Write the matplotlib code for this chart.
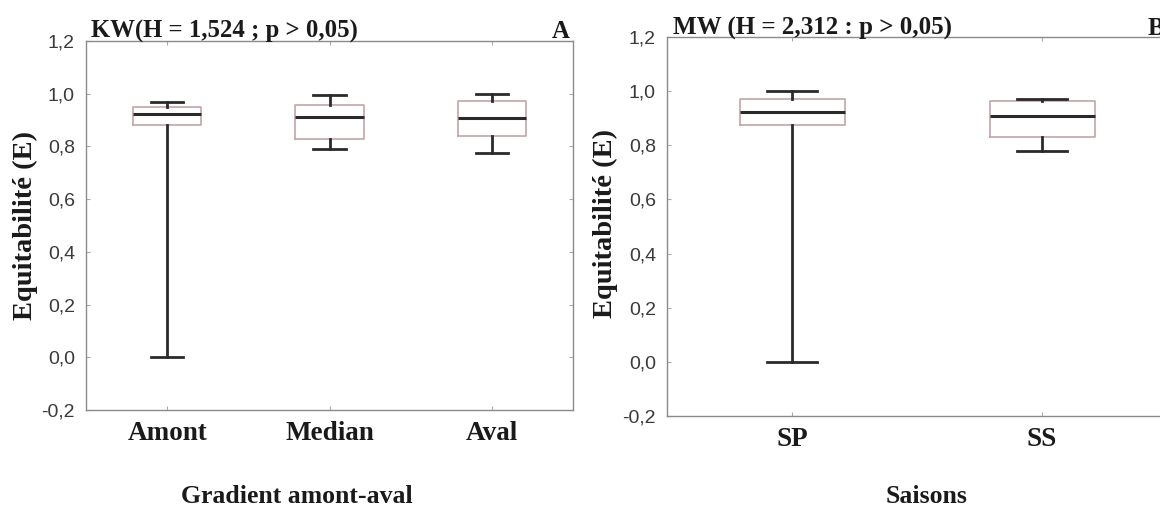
import matplotlib
matplotlib.use("Agg")
from matplotlib import pyplot as plt

# panel A : gradient amont-aval
groups_a = ["Amont", "Median", "Aval"]
low_a = [0.0, 0.789, 0.775]
q1_a = [0.880, 0.829, 0.839]
med_a = [0.923, 0.910, 0.907]
q3_a = [0.949, 0.959, 0.974]
high_a = [0.967, 0.994, 1.0]

# panel B : saisons
groups_b = ["SP", "SS"]
low_b = [0.0, 0.779]
q1_b = [0.876, 0.831]
med_b = [0.922, 0.910]
q3_b = [0.971, 0.964]
high_b = [1.0, 0.971]

yticks = [-0.2, 0.0, 0.2, 0.4, 0.6, 0.8, 1.0, 1.2]

serif = "Liberation Serif"
sans = "Liberation Sans"
box_col = "#c4a4a8"
dark = "#2a2a2a"


def make_stats(labels, low, q1, med, q3, high):
    stats = []
    for i in range(len(labels)):
        stats.append({"label": labels[i], "whislo": low[i], "q1": q1[i],
                      "med": med[i], "q3": q3[i], "whishi": high[i],
                      "fliers": []})
    return stats


def draw_panel(ax, stats):
    ax.bxp(stats, positions=range(len(stats)), widths=0.42, capwidths=0.2,
           showfliers=False,
           boxprops=dict(color=box_col, linewidth=1.2),
           medianprops=dict(color=dark, linewidth=2.2),
           whiskerprops=dict(color=dark, linewidth=2.0),
           capprops=dict(color=dark, linewidth=2.0))
    ax.set_xlim(-0.5, len(stats) - 0.5)
    ax.set_ylim(-0.2, 1.2)
    ax.set_yticks(yticks)
    ax.set_yticklabels([f"{v:.1f}".replace(".", ",").replace("-0,0", "0,0") for v in yticks],
                       family=sans, fontsize=14, color="#3a3a3a")
    ax.set_xticks(range(len(stats)))
    ax.set_xticklabels([s["label"] for s in stats], family=serif,
                       fontweight="bold", fontsize=19.5, color="#1a1a1a")
    ax.tick_params(axis="both", direction="in", length=3, color="#aaaaaa",
                   top=True, right=True)
    ax.tick_params(axis="x", pad=8)
    ax.tick_params(axis="y", pad=8)
    for sp in ax.spines.values():
        sp.set_color("#8a8a8a")
        sp.set_linewidth(1.0)


fig = plt.figure(figsize=(11.6, 5.08), dpi=100)

ax_a = fig.add_axes([86 / 1160, 1 - 410 / 508, 487 / 1160, 369 / 508])
draw_panel(ax_a, make_stats(groups_a, low_a, q1_a, med_a, q3_a, high_a))

ax_b = fig.add_axes([667 / 1160, 1 - 416 / 508, 500 / 1160, 379 / 508])
draw_panel(ax_b, make_stats(groups_b, low_b, q1_b, med_b, q3_b, high_b))

lab = dict(family=serif, fontweight="bold", color="#1a1a1a")
fig.text(25 / 1160, 1 - 225 / 508, "Equitabilité (E)", rotation=90,
         ha="center", va="center", fontsize=20.5, **lab)
fig.text(605 / 1160, 1 - 223 / 508, "Equitabilité (E)", rotation=90,
         ha="center", va="center", fontsize=20.5, **lab)
fig.text(297 / 1160, 1 - 503 / 508, "Gradient amont-aval", ha="center",
         va="baseline", fontsize=18.5, **lab)
fig.text(927 / 1160, 1 - 503 / 508, "Saisons", ha="center", va="baseline",
         fontsize=18.5, **lab)

fig.text(91 / 1160, 1 - 38 / 508, "KW(H = 1,524 ; p > 0,05)", ha="left",
         va="baseline", fontsize=17.8, **lab)
fig.text(561 / 1160, 1 - 38 / 508, "A", ha="center", va="baseline",
         fontsize=17.8, **lab)
fig.text(673 / 1160, 1 - 35 / 508, "MW (H = 2,312 : p > 0,05)", ha="left",
         va="baseline", fontsize=18, **lab)
fig.text(1148 / 1160, 1 - 35 / 508, "B", ha="left", va="baseline",
         fontsize=18, **lab)

fig.savefig("out.png", dpi=100)
